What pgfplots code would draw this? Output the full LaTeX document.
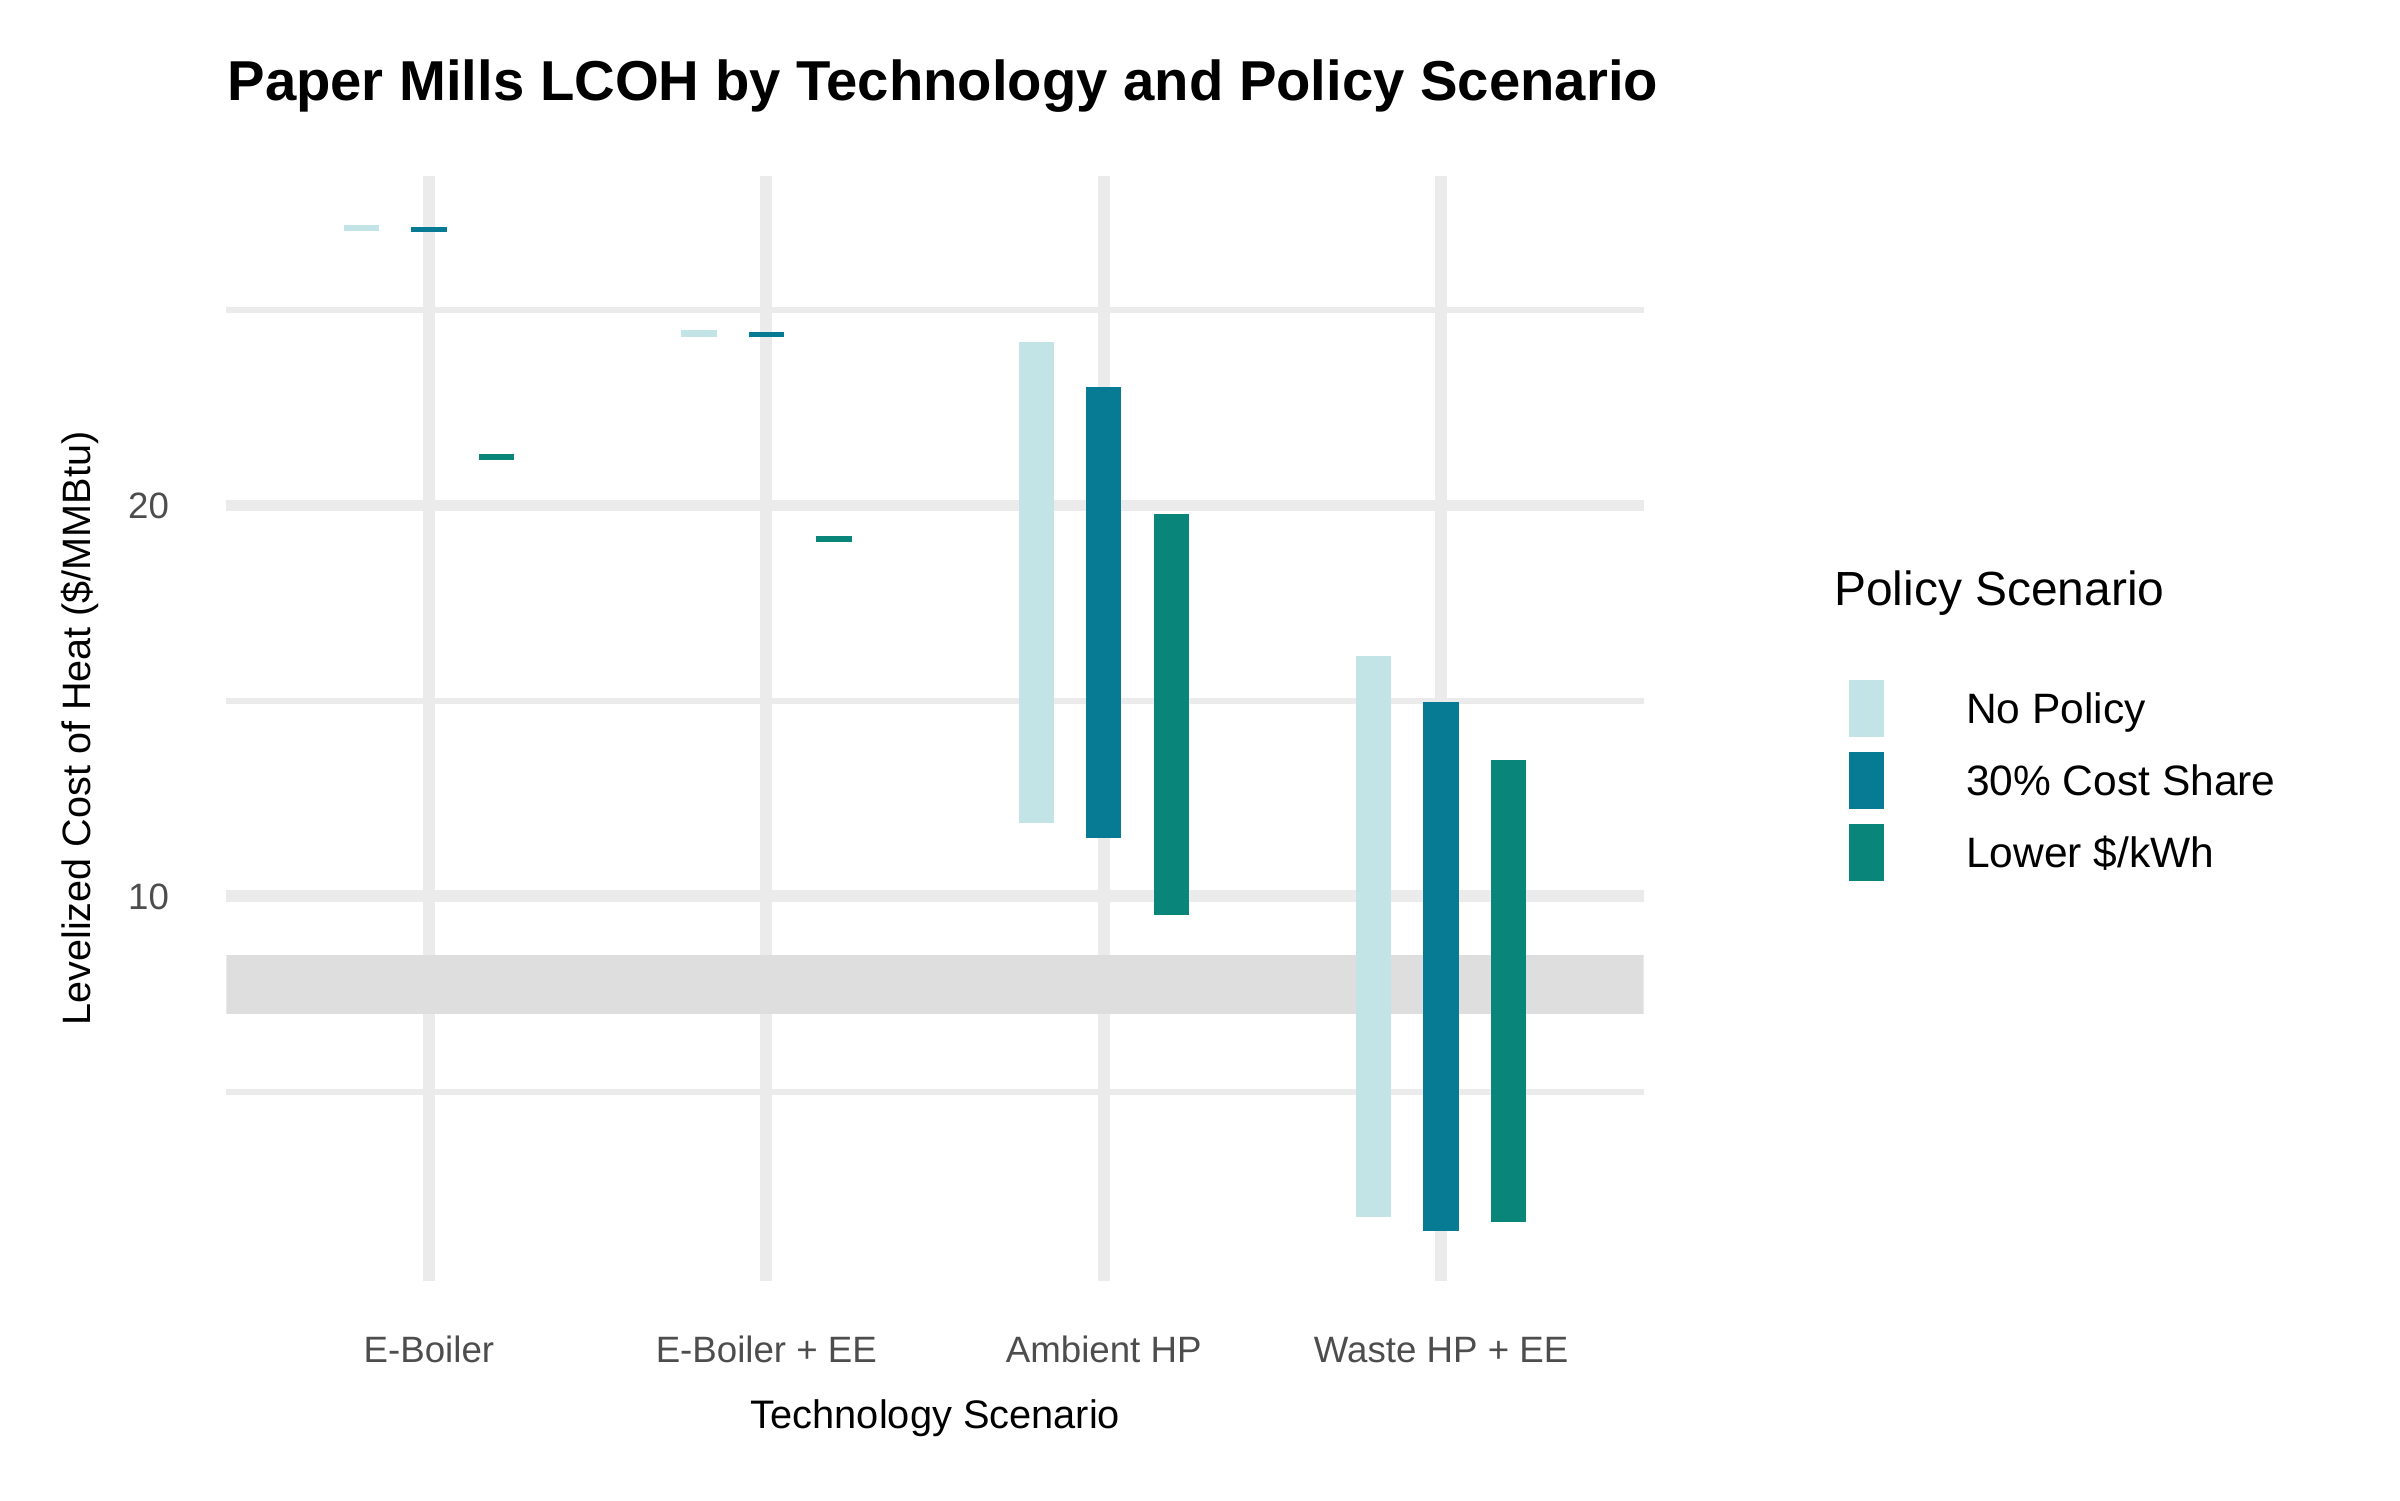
\documentclass[border=0pt]{standalone}
\usepackage{pgfplots}
\pgfplotsset{compat=1.18}
\usepackage{fontspec}
\setmainfont{Liberation Sans}
\definecolor{cNP}{HTML}{C2E4E6}
\definecolor{cCS}{HTML}{067B93}
\definecolor{cLK}{HTML}{0A8579}
\definecolor{gridc}{HTML}{EBEBEB}
\definecolor{bandc}{HTML}{DEDEDE}
\definecolor{tickc}{HTML}{4D4D4D}
\begin{document}
\begin{tikzpicture}
\useasboundingbox (0,0) rectangle (576pt,360pt);
\begin{axis}[
  at={(54.36pt,52.56pt)}, anchor=south west,
  width=340.1pt, height=265.2pt, scale only axis,
  xmin=0.4, xmax=4.6, ymin=0.16, ymax=28.43,
  xtick={1,2,3,4},
  xticklabels={E-Boiler, E-Boiler + EE, Ambient HP, Waste HP + EE},
  ytick={10,20}, minor ytick={5,15,25},
  xmajorgrids, ymajorgrids, yminorgrids,
  major grid style={gridc, line width=2.85pt},
  minor grid style={gridc, line width=1.4pt},
  axis line style={draw=none},
  major tick length=0pt, minor tick length=0pt,
  tick style={draw=none},
  ticklabel style={font=\fontsize{8.8}{10}\selectfont, text=tickc, inner sep=0pt},
  xticklabel style={anchor=base, yshift=-19.6pt},
  yticklabel style={anchor=east, xshift=-13.6pt},
  /pgf/number format/assume math mode=true,
  unbounded coords=jump,
  legend cell align=left,
  legend style={at={(1.145,0.544)}, anchor=north west, draw=none, fill=none,
    inner sep=0pt, outer sep=0pt, row sep=3.7pt, column sep=19.6pt,
    font=\fontsize{10.2}{12}\selectfont,
    nodes={inner sep=0pt, text height=7.2pt, text depth=0pt, anchor=west}},
  legend image code/.code={\fill[#1, draw=none, line width=0pt] (0pt,-6.8pt) rectangle (8.5pt,6.8pt);},
]
% reference band
\addplot[fill=bandc, draw=none, forget plot] coordinates {(0.4,7.0) (4.6,7.0) (4.6,8.5) (0.4,8.5)};
% No Policy
\addplot[color=cNP, line width=8.5pt, mark=none] coordinates {
  (0.8,27.03) (0.8,27.18) (0.8,nan)
  (1.8,24.32) (1.8,24.50) (1.8,nan)
  (2.8,11.89) (2.8,24.18) (2.8,nan)
  (3.8,1.80) (3.8,16.15)};
\addlegendentry{No Policy}
% 30% Cost Share
\addplot[color=cCS, line width=8.5pt, mark=none] coordinates {
  (1.0,27.00) (1.0,27.12) (1.0,nan)
  (2.0,24.30) (2.0,24.43) (2.0,nan)
  (3.0,11.49) (3.0,23.03) (3.0,nan)
  (4.0,1.44) (4.0,14.98)};
\addlegendentry{30\% Cost Share}
% Lower $/kWh
\addplot[color=cLK, line width=8.5pt, mark=none] coordinates {
  (1.2,21.16) (1.2,21.32) (1.2,nan)
  (2.2,19.06) (2.2,19.23) (2.2,nan)
  (3.2,9.52) (3.2,19.78) (3.2,nan)
  (4.2,1.67) (4.2,13.48)};
\addlegendentry{Lower \$/kWh}
\end{axis}
\node[anchor=base west, inner sep=0pt, font=\bfseries\fontsize{13.5}{15}\selectfont] at (54.4pt,335.8pt) {Paper Mills LCOH by Technology and Policy Scenario};
\node[anchor=base, inner sep=0pt, rotate=90, font=\fontsize{9.5}{11}\selectfont] at (21.8pt,185.16pt) {Levelized Cost of Heat (\$/MMBtu)};
\node[anchor=base, inner sep=0pt, font=\fontsize{9.55}{11}\selectfont] at (224.5pt,17.2pt) {Technology Scenario};
\node[anchor=base west, inner sep=0pt, font=\fontsize{11.5}{13}\selectfont] at (440pt,214.8pt) {Policy Scenario};
\end{tikzpicture}
\end{document}
